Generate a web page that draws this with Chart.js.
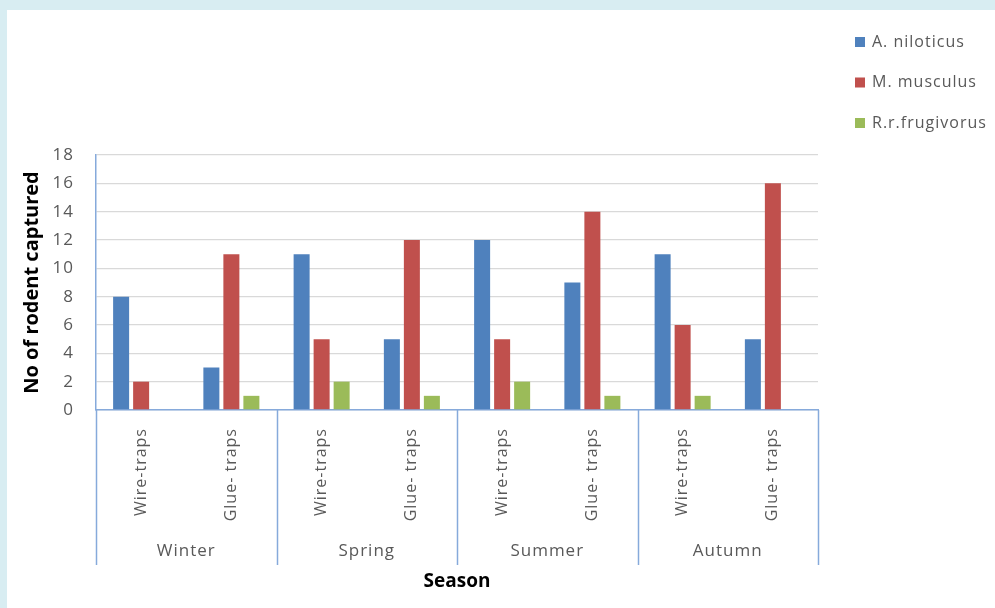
<!DOCTYPE html>
<html>
<head>
<meta charset="utf-8">
<script src="https://cdn.jsdelivr.net/npm/chart.js@4"></script>
<style>
  html, body { margin: 0; padding: 0; background: #d8edf2; }
  #wrap { position: absolute; left: 7px; top: 10px; width: 988px; height: 598px; background: #fff; }
</style>
</head>
<body>
<div id="wrap"><canvas id="rodentChart" width="988" height="598"></canvas></div>
<script>
// Data
const seasons = ['Winter', 'Spring', 'Summer', 'Autumn'];
const traps = ['Wire-traps', 'Glue- traps'];
const aNiloticus = [8, 3, 11, 5, 12, 9, 11, 5];
const mMusculus = [2, 11, 5, 12, 5, 14, 6, 16];
const rFrugivorus = [0, 1, 2, 1, 2, 1, 1, 0];
const yTicks = [0, 2, 4, 6, 8, 10, 12, 14, 16, 18];

const labels = [];
seasons.forEach(() => traps.forEach(t => labels.push(t)));

const FONT = '"Open Sans", sans-serif';
const GREY = '#595959';
const AXIS_BLUE = '#86aadb';

// wider letter spacing for all chart text
const spacing = {
    id: 'spacing',
    beforeDraw(chart) { chart.ctx.letterSpacing = '1px'; }
};

// season row, dividers, legend, y title
const extras = {
    id: 'extras',
    afterDraw(chart) {
        const ctx = chart.ctx;
        const x = chart.scales.x;
        const area = chart.chartArea;
        ctx.save();
        // dividers
        ctx.strokeStyle = AXIS_BLUE;
        ctx.lineWidth = 1.5;
        for (let k = 0; k <= seasons.length; k++) {
            const px = Math.round(x.getPixelForValue(k * 2 - 0.5)) + 0.5;
            ctx.beginPath();
            ctx.moveTo(px, area.bottom);
            ctx.lineTo(px, area.bottom + 155);
            ctx.stroke();
        }
        // season labels
        ctx.fillStyle = GREY;
        ctx.font = '17px ' + FONT;
        ctx.textAlign = 'center';
        ctx.textBaseline = 'middle';
        seasons.forEach((s, k) => {
            ctx.fillText(s, x.getPixelForValue(k * 2 + 0.5), area.bottom + 141);
        });
        // titles
        ctx.letterSpacing = '0px';
        ctx.fillStyle = '#000';
        ctx.font = 'bold 19px ' + FONT;
        ctx.fillText('Season', (area.left + area.right) / 2, area.bottom + 172);
        ctx.save();
        ctx.translate(25, (area.top + area.bottom) / 2);
        ctx.rotate(-Math.PI / 2);
        ctx.font = 'bold 20px ' + FONT;
        ctx.fillText('No of rodent captured', 0, 0);
        ctx.restore();
        // legend
        ctx.letterSpacing = '1px';
        ctx.font = '16px ' + FONT;
        ctx.textAlign = 'left';
        chart.data.datasets.forEach((ds, i) => {
            const ly = 32 + i * 40.5;
            ctx.fillStyle = ds.backgroundColor;
            ctx.fillRect(848, ly - 5, 10, 10);
            ctx.fillStyle = GREY;
            ctx.fillText(ds.label, 865, ly);
        });
        ctx.restore();
    }
};

new Chart(document.getElementById('rodentChart'), {
    type: 'bar',
    data: {
        labels: labels,
        datasets: [
            { label: 'A. niloticus', data: aNiloticus, backgroundColor: '#4f81bd' },
            { label: 'M. musculus', data: mMusculus, backgroundColor: '#c0504d' },
            { label: 'R.r.frugivorus', data: rFrugivorus, backgroundColor: '#9bbb59' }
        ]
    },
    options: {
        responsive: false,
        animation: false,
        layout: { padding: { top: 145, right: 177, bottom: 0, left: 0 } },
        datasets: { bar: { categoryPercentage: 0.665, barPercentage: 0.8 } },
        plugins: { legend: { display: false }, tooltip: { enabled: false } },
        scales: {
            x: {
                grid: { display: false },
                border: { color: AXIS_BLUE, width: 1.5 },
                ticks: {
                    color: GREY,
                    font: { family: FONT, size: 16 },
                    minRotation: 90,
                    maxRotation: 90,
                    padding: 10
                },
                afterFit(scale) { scale.height = 198; }
            },
            y: {
                min: 0,
                max: 18,
                afterBuildTicks(scale) { scale.ticks = yTicks.map(v => ({ value: v })); },
                grid: { color: '#d9d9d9', lineWidth: 1.3, drawTicks: false },
                border: { color: AXIS_BLUE, width: 1.5 },
                ticks: {
                    color: GREY,
                    font: { family: FONT, size: 17 },
                    padding: 22
                },
                afterFit(scale) { scale.width = 89; }
            }
        }
    },
    plugins: [spacing, extras]
});
</script>
</body>
</html>
